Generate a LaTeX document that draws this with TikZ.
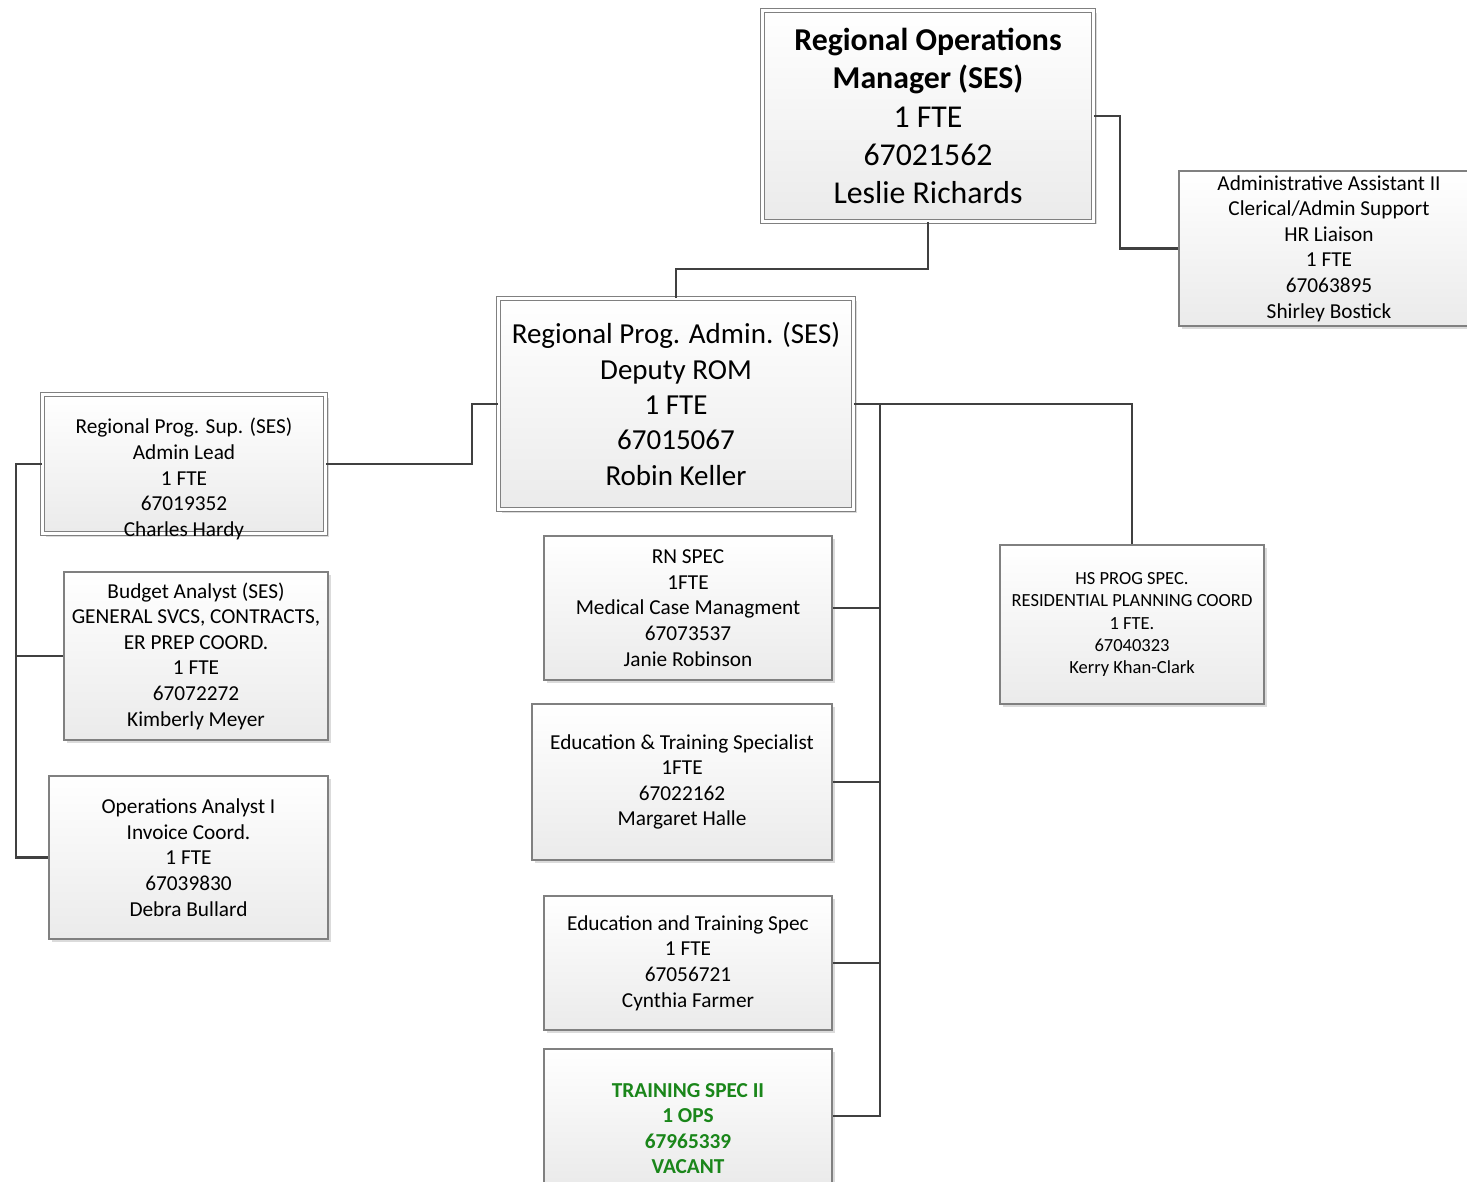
\documentclass[tikz,border=0pt]{standalone}
\usepackage{fontspec}
\setmainfont{Carlito}
\usetikzlibrary{shadows}
\definecolor{conn}{HTML}{404040}
\definecolor{edgegray}{HTML}{808080}
\definecolor{vacant}{HTML}{1A861A}
\tikzset{
  box/.style={draw=edgegray, line width=1.1pt, top color=white, bottom color=black!8,
    inner sep=0pt, align=center,
    drop shadow={shadow xshift=3pt, shadow yshift=-3pt, fill=black!14, opacity=1}},
  dbox/.style={box, double=white, double distance=3.4pt, line width=0.9pt},
  txt/.style={inner sep=0pt, align=center},
  link/.style={draw=conn, line width=2.6pt},
  fbig/.style={font=\fontsize{31.8}{38.3}\selectfont},
  fmid/.style={font=\fontsize{29}{35.3}\selectfont},
  fsmall/.style={font=\fontsize{21.3}{25.6}\selectfont},
  fsmallbold/.style={font=\fontsize{21.3}{25.6}\selectfont\bfseries},
  ftiny/.style={font=\fontsize{18.5}{22.3}\selectfont},
}
\begin{document}
\begin{tikzpicture}[x=1pt,y=-1pt]
\useasboundingbox (0,0) rectangle (1467,1182);

% top manager and deputy
\node[dbox, fbig, minimum width=331pt, minimum height=211pt] (rom) at (928,116)
  {\textbf{Regional Operations}\\\textbf{Manager (SES)}\\1 FTE\\67021562\\Leslie Richards};
\node[box, fsmall, minimum width=300pt, minimum height=155pt] (admin) at (1329,248.5)
  {Administrative Assistant II\\Clerical/Admin Support\\HR Liaison\\1 FTE\\67063895\\Shirley Bostick};
\node[dbox, fmid, minimum width=355pt, minimum height=211pt] (rpa) at (676,404)
  {Regional Prog. Admin. (SES)\\Deputy ROM\\1 FTE\\67015067\\Robin Keller};

% left branch
\node[dbox, minimum width=283pt, minimum height=139pt] (rps) at (184,464) {};
\node[txt, fsmall] (rpst) at ([yshift=-15pt]rps.center)
  {Regional Prog. Sup. (SES)\\Admin Lead\\1 FTE\\67019352\\Charles Hardy};
\node[box, fsmall, minimum width=264pt, minimum height=168pt] (budget) at (196,656)
  {Budget Analyst (SES)\\GENERAL SVCS, CONTRACTS,\\ER PREP COORD.\\1 FTE\\67072272\\Kimberly Meyer};
\node[box, fsmall, minimum width=279pt, minimum height=163pt] (ops) at (188.5,857.5)
  {Operations Analyst I\\Invoice Coord.\\1 FTE\\67039830\\Debra Bullard};

% centre column
\node[box, fsmall, minimum width=288pt, minimum height=144pt] (rn) at (688,608)
  {RN SPEC\\1FTE\\Medical Case Managment\\67073537\\Janie Robinson};
\node[box, fsmall, minimum width=300pt, minimum height=156pt] (ets) at (682,782)
  {Education \& Training Specialist\\1FTE\\67022162\\Margaret Halle};
\node[box, fsmall, minimum width=288pt, minimum height=134pt] (etspec) at (688,963)
  {Education and Training Spec\\1 FTE\\67056721\\Cynthia Farmer};
\node[box, minimum width=288pt, minimum height=134pt] (tr2) at (688,1116) {};
\node[txt, fsmallbold, text=vacant] (tr2t) at ([yshift=-12.5pt]tr2.center)
  {TRAINING SPEC II\\1 OPS\\67965339\\VACANT};

% right branch
\node[box, ftiny, minimum width=264pt, minimum height=159pt] (hs) at (1132,624.5)
  {HS PROG SPEC.\\RESIDENTIAL PLANNING COORD\\1 FTE.\\67040323\\Kerry Khan-Clark};

% reporting lines
\draw[link] (rom.south) -- ++(0,47) -| (rpa.north);
\draw[link] (rom.east) -- ++(26,0) |- (admin.west);
\draw[link] (rpa.west) -- ++(-26,0) |- (rps.east);
\draw[link] (rps.west) -- ++(-26,0) coordinate (lbus) |- (ops.west);
\draw[link] (lbus |- budget.west) -- (budget.west);
\draw[link] (rpa.east) -- ++(26,0) coordinate (rbus) |- (tr2.east);
\draw[link] (rbus |- rn.east) -- (rn.east);
\draw[link] (rbus |- ets.east) -- (ets.east);
\draw[link] (rbus |- etspec.east) -- (etspec.east);
\draw[link] (rpa.east) -| (hs.north);
\end{tikzpicture}
\end{document}
